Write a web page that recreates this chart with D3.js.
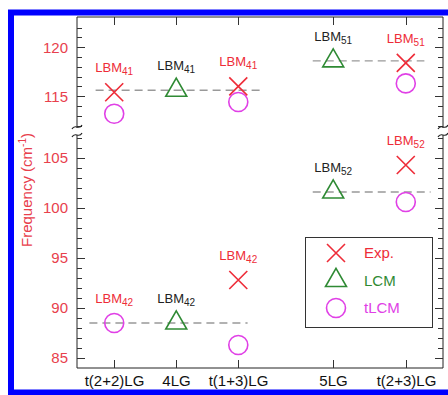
<!DOCTYPE html>
<html>
<head>
<meta charset="utf-8">
<script src="https://cdn.jsdelivr.net/npm/d3@7"></script>
<style>
  html, body { margin: 0; padding: 0; background: #fff; }
  svg { display: block; font-family: "Liberation Sans", Arial, sans-serif; }
</style>
</head>
<body>
<div id="chart"></div>
<script>
// categories and their slot on the x axis (5LG / t(2+3)LG sit a bit apart)
var categories = ["t(2+2)LG", "4LG", "t(1+3)LG", "5LG", "t(2+3)LG"];
var slots = [1, 2, 3, 4.53, 5.7];

// upper branch (LBM41 / LBM51) and lower branch (LBM42 / LBM52), null = no point
var expUpper = [115.4, null, 116.0, null, 118.4];
var expLower = [null, null, 92.8, null, 104.3];
var lcmUpper = [null, 115.6, null, 118.6, null];
var lcmLower = [null, 88.5, null, 101.6, null];
var tlcmUpper = [113.2, null, 114.4, null, 116.3];
var tlcmLower = [88.5, null, 86.3, null, 100.6];

var upperModes = ["41", "41", "41", "51", "51"];
var lowerModes = ["42", "42", "42", "52", "52"];

// dashed guide lines through LCM values: [value, from slot, to slot]
var guides = [
  [115.6, 0.7, 3.37],
  [88.5, 0.6, 3.15],
  [118.6, 4.2, 6.0],
  [101.6, 4.2, 6.1]
];

var yMajorLow = [85, 90, 95, 100, 105];
var yMajorHigh = [115, 120];

var red = "#ee2c38", green = "#2f8a34", magenta = "#e040e6", tickRed = "#e8404c";

var W = 448, H = 395;
var plotL = 77, plotR = 443, plotT = 17, plotB = 368;

var svg = d3.select("#chart").append("svg").attr("width", W).attr("height", H);

// blue frame
svg.append("rect")
  .attr("x", 11).attr("y", 12.5).attr("width", 460).attr("height", 380)
  .attr("fill", "none").attr("stroke", "#0000ff").attr("stroke-width", 6);

var x = d3.scaleLinear().domain([0.4, 6.3]).range([plotL, plotR]);
var yLow = d3.scaleLinear().domain([84, 107]).range([plotB, 138]);
var yHigh = d3.scaleLinear().domain([112, 123.08]).range([125.5, plotT]);
function y(v) { return v > 110 ? yHigh(v) : yLow(v); }

var g = svg.append("g");

// frame: top, bottom, left/right split by the break
g.append("line").attr("x1", plotL).attr("x2", plotR).attr("y1", plotT).attr("y2", plotT).attr("stroke", "#222");
g.append("line").attr("x1", plotL).attr("x2", plotR).attr("y1", plotB).attr("y2", plotB).attr("stroke", "#222");
[plotL, plotR].forEach(function (xx) {
  g.append("line").attr("x1", xx).attr("x2", xx).attr("y1", plotT).attr("y2", 128).attr("stroke", "#222");
  g.append("line").attr("x1", xx).attr("x2", xx).attr("y1", 135).attr("y2", plotB).attr("stroke", "#222");
});

// y ticks (inward on both sides)
var minorLow = d3.range(85, 108), minorHigh = d3.range(112, 123);
function yTicks(vals, scale) {
  vals.forEach(function (v) {
    var major = (yMajorLow.indexOf(v) >= 0 || yMajorHigh.indexOf(v) >= 0);
    var len = major ? 8 : 5;
    var yy = Math.round(scale(v)) + 0.5;
    g.append("line").attr("x1", plotL).attr("x2", plotL + len).attr("y1", yy).attr("y2", yy).attr("stroke", "#333");
    g.append("line").attr("x1", plotR).attr("x2", plotR - len).attr("y1", yy).attr("y2", yy).attr("stroke", "#333");
  });
}
yTicks(minorLow, yLow);
yTicks(minorHigh, yHigh);

yMajorLow.concat(yMajorHigh).forEach(function (v) {
  g.append("text").attr("x", 68).attr("y", y(v)).attr("dy", "0.36em")
    .attr("text-anchor", "end").attr("fill", tickRed).attr("font-size", 15).text(v);
});

// axis break squiggles
[plotL, plotR].forEach(function (xx) {
  [127, 135].forEach(function (yy) {
    g.append("path")
      .attr("d", "M" + (xx - 5) + "," + (yy + 2) + " C" + (xx - 2) + "," + (yy - 4) + " " + (xx + 2) + "," + (yy + 4) + " " + (xx + 5) + "," + (yy - 2))
      .attr("fill", "none").attr("stroke", "#222").attr("stroke-width", 1.2);
  });
});

// x ticks top and bottom, category labels
categories.forEach(function (c, i) {
  var xx = Math.round(x(slots[i])) + 0.5;
  g.append("line").attr("x1", xx).attr("x2", xx).attr("y1", plotT).attr("y2", plotT + 8).attr("stroke", "#333");
  g.append("line").attr("x1", xx).attr("x2", xx).attr("y1", plotB).attr("y2", plotB - 8).attr("stroke", "#333");
  g.append("text").attr("x", xx).attr("y", 386).attr("text-anchor", "middle")
    .attr("font-size", 15).attr("fill", "#111").text(c);
});

// y title
g.append("text")
  .attr("transform", "translate(32,190) rotate(-90)")
  .attr("text-anchor", "middle").attr("fill", tickRed).attr("font-size", 15)
  .call(function (t) {
    t.append("tspan").text("Frequency (cm");
    t.append("tspan").attr("font-size", 10).attr("dy", -6).text("-1");
    t.append("tspan").attr("dy", 6).text(")");
  });

// dashed guides
guides.forEach(function (d) {
  g.append("line")
    .attr("x1", x(d[1])).attr("x2", x(d[2]))
    .attr("y1", y(d[0])).attr("y2", y(d[0]))
    .attr("stroke", "#999").attr("stroke-width", 1.3).attr("stroke-dasharray", "8,5");
});

// markers
function cross(sel, cx, cy) {
  var s = 9;
  sel.append("path")
    .attr("d", "M" + (cx - s) + "," + (cy - s) + "L" + (cx + s) + "," + (cy + s) + "M" + (cx - s) + "," + (cy + s) + "L" + (cx + s) + "," + (cy - s))
    .attr("stroke", red).attr("stroke-width", 1.6).attr("fill", "none");
}
var tri = d3.symbol().type(d3.symbolTriangle).size(190);
function triangle(sel, cx, cy) {
  sel.append("path").attr("d", tri()).attr("transform", "translate(" + cx + "," + cy + ")")
    .attr("fill", "none").attr("stroke", green).attr("stroke-width", 1.6);
}
function circle(sel, cx, cy) {
  sel.append("circle").attr("cx", cx).attr("cy", cy).attr("r", 9.5)
    .attr("fill", "none").attr("stroke", magenta).attr("stroke-width", 1.6);
}

var marks = g.append("g");
function drawSeries(vals, fn) {
  vals.forEach(function (v, i) { if (v !== null) fn(marks, x(slots[i]), y(v)); });
}
drawSeries(tlcmUpper, circle);
drawSeries(tlcmLower, circle);
drawSeries(lcmUpper, triangle);
drawSeries(lcmLower, triangle);
drawSeries(expUpper, cross);
drawSeries(expLower, cross);

// mode labels above the topmost marker of each group
function modeLabel(i, mode, vals, color) {
  var hi = d3.max(vals.filter(function (v) { return v !== null; }));
  var t = g.append("text").attr("x", x(slots[i])).attr("y", y(hi) - 20)
    .attr("text-anchor", "middle").attr("fill", color).attr("font-size", 13);
  t.append("tspan").text("LBM");
  t.append("tspan").attr("font-size", 10).attr("dy", 3).text(mode);
}
categories.forEach(function (c, i) {
  var isLcm = lcmUpper[i] !== null;
  var col = isLcm ? "#222" : red;
  modeLabel(i, upperModes[i], [expUpper[i], lcmUpper[i], tlcmUpper[i]], col);
  modeLabel(i, lowerModes[i], [expLower[i], lcmLower[i], tlcmLower[i]], col);
});

// legend
var legendItems = [
  { name: "Exp.", color: red, draw: cross },
  { name: "LCM", color: green, draw: triangle },
  { name: "tLCM", color: magenta, draw: circle }
];
var lg = g.append("g");
lg.append("rect").attr("x", 305.5).attr("y", 237.5).attr("width", 127).attr("height", 90)
  .attr("fill", "#fff").attr("stroke", "#333");
legendItems.forEach(function (d, i) {
  var ly = 253 + i * 27.5;
  d.draw(lg, 336, ly);
  lg.append("text").attr("x", 364).attr("y", ly).attr("dy", "0.36em")
    .attr("fill", d.color).attr("font-size", 15).text(d.name);
});
</script>
</body>
</html>
